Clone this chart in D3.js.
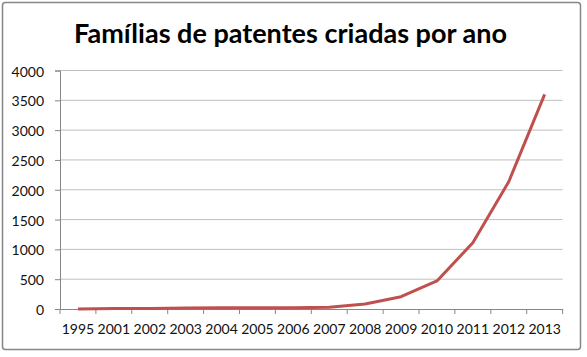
<!DOCTYPE html>
<html><head><meta charset="utf-8">
<script src="https://cdn.jsdelivr.net/npm/d3@7"></script>
<style>body{margin:0;background:#fff}</style>
</head><body>
<svg id="c" width="587" height="357"></svg>
<script>
const categories = ["1995","2001","2002","2003","2004","2005","2006","2007","2008","2009","2010","2011","2012","2013"];
const values = [0, 8, 10, 18, 20, 20, 22, 30, 84, 206, 470, 1112, 2135, 3600];
const yTicks = [0,500,1000,1500,2000,2500,3000,3500,4000];
const title = "Famílias de patentes criadas por ano";

(function(){
const svg = d3.select("#c");
const font = "Lato, 'Open Sans', sans-serif";
svg.append("rect").attr("x",2.5).attr("y",2.5).attr("width",578).attr("height",347)
  .attr("fill","#fff").attr("stroke","#868686").attr("stroke-width",1.5).attr("rx",3);

const pl=60, pr=562.6, pt=70.5, pb=309;
const x = d3.scaleBand().domain(categories).range([pl,pr]);
const y = d3.scaleLinear().domain([0,4000]).range([pb,pt]);

svg.append("g").selectAll("line").data(yTicks.slice(1)).join("line")
  .attr("x1",pl).attr("x2",pr).attr("y1",d=>y(d)).attr("y2",d=>y(d))
  .attr("stroke","#bfbfbf").attr("stroke-width",1);

const ya = svg.append("g").attr("transform",`translate(${pl},0)`)
  .call(d3.axisLeft(y).tickValues(yTicks).tickSize(5).tickPadding(11).tickFormat(d3.format("d")));
ya.select(".domain").attr("stroke","#868686");
ya.selectAll(".tick line").attr("stroke","#868686");
ya.selectAll("text").attr("font-family",font).attr("font-size",14).attr("fill","#111").attr("dy","0.4em");

const xa = svg.append("g").attr("transform",`translate(0,${pb})`)
  .call(d3.axisBottom(x).tickSize(0).tickPadding(15));
xa.select(".domain").attr("stroke","#868686");
xa.selectAll("text").attr("font-family",font).attr("font-size",14).attr("fill","#111");
const bounds = categories.map(c=>x(c)).concat([pr]);
svg.append("g").selectAll("line").data(bounds).join("line")
  .attr("x1",d=>d).attr("x2",d=>d).attr("y1",pb).attr("y2",pb+5)
  .attr("stroke","#868686");

const line = d3.line().x((d,i)=>x(categories[i])+x.bandwidth()/2).y(d=>y(d));
svg.append("path").datum(values).attr("d",line).attr("fill","none")
  .attr("stroke","#C0504D").attr("stroke-width",3).attr("stroke-linejoin","round");

svg.append("text").attr("x",74).attr("y",43)
  .attr("font-family",font).attr("font-weight","bold").attr("font-size",26)
  .attr("textLength",433).attr("lengthAdjust","spacingAndGlyphs")
  .attr("fill","#000").text(title);
})();
</script>
</body></html>
